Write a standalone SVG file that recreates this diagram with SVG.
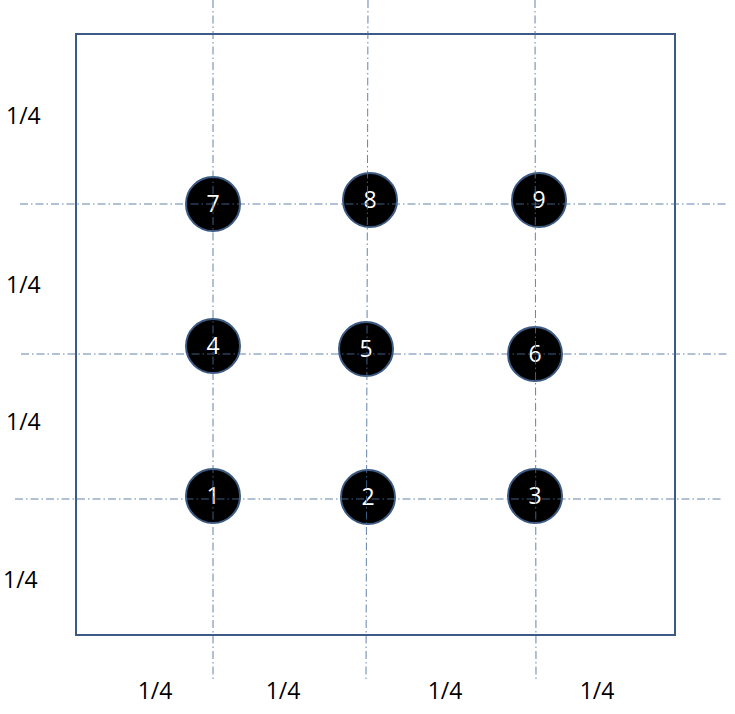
<svg xmlns="http://www.w3.org/2000/svg" width="735" height="714" viewBox="0 0 735 714">
<style>
.frame{fill:none;stroke:#3b5a85;stroke-width:2}
.node circle{fill:#000;stroke:#3c5a82;stroke-width:2}
.node text{fill:#fff;font-family:"Open Sans","Liberation Sans",Arial,sans-serif;font-size:23px;text-anchor:middle}
.guide{stroke:#4a6d9a;stroke-width:1;stroke-dasharray:8 3 1.5 3;fill:none;opacity:0.85}
.lbl{fill:#000;font-family:"Open Sans","Liberation Sans",Arial,sans-serif;font-size:23px}
.lbl.c{text-anchor:middle}
</style>
<rect width="735" height="714" fill="#fff"/>
<rect class="frame" x="76" y="34" width="599" height="601"/>
<g id="labels">
<text class="lbl" x="6" y="124">1/4</text>
<text class="lbl" x="6" y="293">1/4</text>
<text class="lbl" x="6" y="430">1/4</text>
<text class="lbl" x="3" y="588">1/4</text>
<text class="lbl c" x="155" y="699">1/4</text>
<text class="lbl c" x="283" y="699">1/4</text>
<text class="lbl c" x="445" y="699">1/4</text>
<text class="lbl c" x="597" y="699">1/4</text>
</g>
<g id="node7" class="node"><circle cx="213" cy="204" r="27"/><text x="213" y="212">7</text></g>
<g id="node8" class="node"><circle cx="370" cy="200" r="27"/><text x="370" y="208">8</text></g>
<g id="node9" class="node"><circle cx="539" cy="200" r="27"/><text x="539" y="208">9</text></g>
<g id="node4" class="node"><circle cx="213" cy="346" r="27"/><text x="213" y="354">4</text></g>
<g id="node5" class="node"><circle cx="366" cy="349" r="27"/><text x="366" y="357">5</text></g>
<g id="node6" class="node"><circle cx="535" cy="354" r="27"/><text x="535" y="362">6</text></g>
<g id="node1" class="node"><circle cx="213" cy="496" r="27"/><text x="213" y="504">1</text></g>
<g id="node2" class="node"><circle cx="368" cy="497" r="27"/><text x="368" y="505">2</text></g>
<g id="node3" class="node"><circle cx="535" cy="496" r="27"/><text x="535" y="504">3</text></g>
<g id="connectors">
<line class="guide" x1="213" y1="0" x2="213" y2="680"/>
<line class="guide" x1="368" y1="0" x2="366" y2="681"/>
<line class="guide" x1="535" y1="0" x2="536" y2="680"/>
<line class="guide" x1="20" y1="204" x2="728" y2="204"/>
<line class="guide" x1="21" y1="354" x2="728" y2="354"/>
<line class="guide" x1="15" y1="499" x2="722" y2="499"/>
</g>
</svg>
